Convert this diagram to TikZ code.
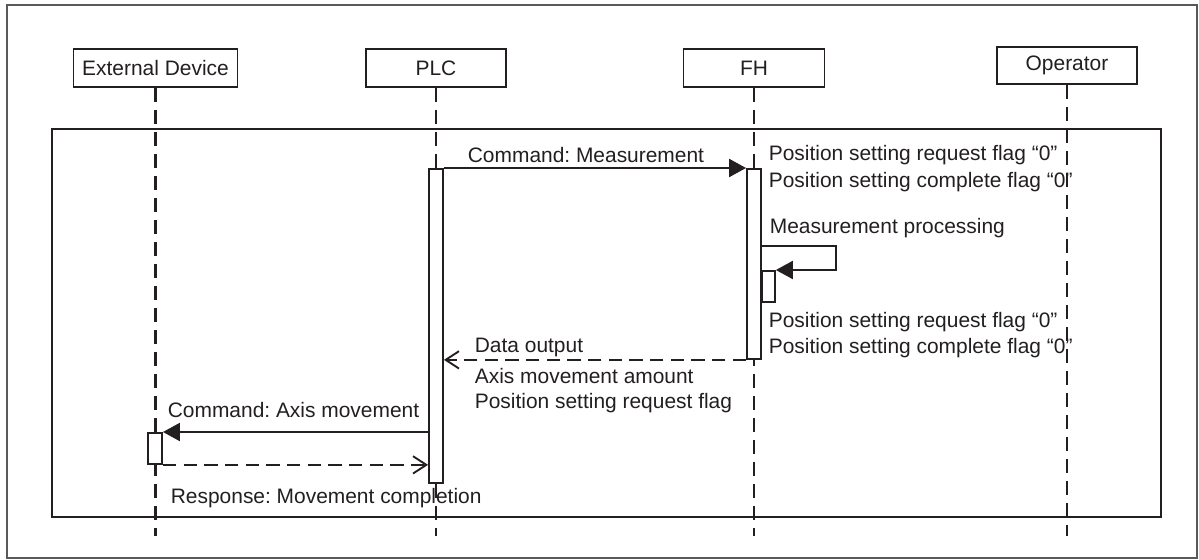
\documentclass[tikz,border=0pt]{standalone}
\usepackage{fontspec}
\setmainfont{Liberation Sans}
\usetikzlibrary{arrows.meta}

\definecolor{inkgray}{RGB}{35,31,32}
\newcommand{\msgfont}{\fontsize{15.7}{18}\selectfont\frenchspacing}

\tikzset{every picture/.style={line width=1.3pt}}
\tikzset{
  actor/.style={draw=inkgray, fill=white, line width=1.4pt, minimum width=105pt, minimum height=28.5pt, inner sep=0pt, font=\msgfont, text=inkgray},
  actbar/.style={draw=inkgray, fill=white, line width=1.4pt, minimum width=10.5pt, inner sep=0pt},
  lifeline/.style={draw=inkgray, line width=1.6pt, dash pattern=on 10.5pt off 6pt},
  call/.style={draw=inkgray, line width=1.6pt, -{Triangle[length=12.75pt,width=13.5pt]}},
  reply/.style={draw=inkgray, line width=1.4pt, dash pattern=on 10pt off 5.5pt, -{Straight Barb[length=10pt,width=13pt]}},
  msg/.style={anchor=base west, inner sep=0pt, font=\msgfont, text=inkgray},
}

\begin{document}
\begin{tikzpicture}[x=0.75pt,y=0.75pt,yscale=-1,xscale=1]
\useasboundingbox (0,0) rectangle (1199,560);

%Outer frame
\draw [draw=gray!70!black, line width=1.2pt] (7,5) rectangle (1197,558);
%Inner frame
\draw [draw=inkgray, line width=1.4pt] (52,129) rectangle (1161,517);

% Actor boxes
\node [actor, minimum width=123pt] (ext) at (155.5,68) {External Device};
\node [actor] (plc) at (436,68) {PLC};
\node [actor, minimum width=105.75pt] (fh) at (754,68) {FH};
\node [actor, minimum height=27.75pt] (op) at (1067,65.5) {Operator};

%Lifelines
\coordinate (lifeend) at (0,536);
\foreach \n in {ext,plc,fh,op}
  \draw [lifeline] (\n.south) -- (\n.south |- lifeend);

%Activation bars
\node [actbar, minimum height=235.5pt, anchor=north] (plcbar) at (436,168) {};
\node [actbar, minimum height=142.5pt, anchor=north] (fhbar) at (754,168) {};
\node [actbar, minimum width=9.75pt, minimum height=23.25pt, anchor=north west] (fhsub) at (761,270) {};
\node [actbar, minimum height=23.25pt, anchor=north] (extbar) at (155,432) {};

%Messages
\draw [call] (plcbar.north east) -- (fhbar.north west);
\coordinate (loopcorner) at (836,246);
\draw [call] (fhbar.east |- loopcorner) -- (loopcorner) |- (fhsub.north east);
\draw [reply] (fhbar.south west) -- (plcbar.east |- fhbar.south west);
\draw [call] (plcbar.west |- extbar.north) -- (extbar.north east);
\draw [reply] (extbar.south east) -- (plcbar.west |- extbar.south east);

% Text Node
\node [msg] (cmdmeas) at (467,162) {Command: Measurement};
% Text Node
\node [msg] (reqflagA) at (768,160) {Position setting request flag “0”};
% Text Node
\node [msg] (cmpflagA) at (768,187) {Position setting complete flag “0”};
% Text Node
\node [msg] (measproc) at (769,233) {Measurement processing};
% Text Node
\node [msg] (reqflagB) at (768,327.5) {Position setting request flag “0”};
% Text Node
\node [msg] (cmpflagB) at (768,353.5) {Position setting complete flag “0”};
% Text Node
\node [msg] (dataout) at (474,352) {Data output};
% Text Node
\node [msg] (axisamt) at (474,383) {Axis movement amount};
% Text Node
\node [msg] (reqflag) at (474,408) {Position setting request flag};
% Text Node
\node [msg] (cmdaxis) at (167,417) {Command: Axis movement};
% Text Node
\node [msg] (respdone) at (170,503) {Response: Movement completion};

\end{tikzpicture}
\end{document}
